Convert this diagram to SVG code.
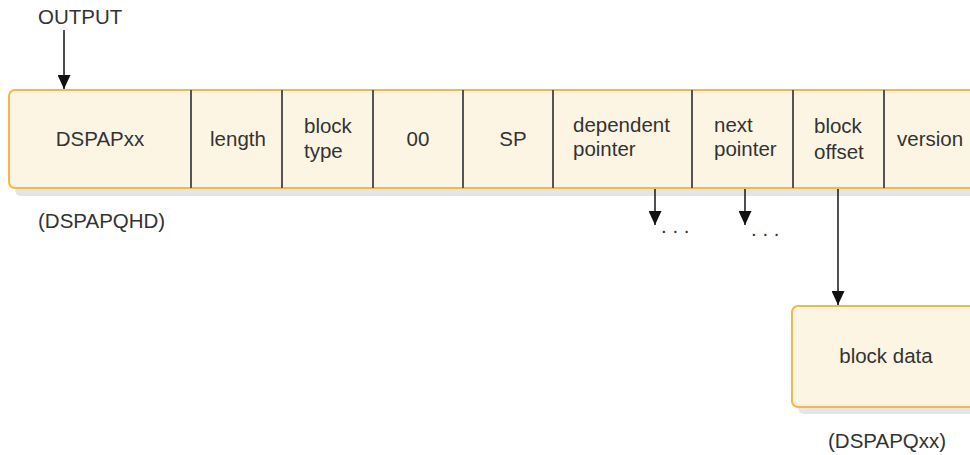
<svg xmlns="http://www.w3.org/2000/svg" width="970" height="455" viewBox="0 0 970 455">
<defs>
<style>
.t{font-family:"Liberation Sans",Arial,sans-serif;font-size:20.5px;fill:#333}
.c{text-anchor:middle}
.box{fill:#fdf5e4;stroke:#f7b64b;stroke-width:2}
.sh{fill:#e5e5e5}
.div{stroke:#555;stroke-width:2}
.ln{stroke:#222;stroke-width:1.6;fill:none}
</style>
<marker id="ah" viewBox="0 0 14 13" refX="14" refY="6.5" markerWidth="14" markerHeight="13" markerUnits="userSpaceOnUse" orient="auto">
<path d="M0,0 L14,6.5 L0,13 Z" fill="#111"/>
</marker>
</defs>
<text class="t" x="38" y="24">OUTPUT</text>
<g id="record">
<rect class="sh" x="15" y="96" width="1000" height="100" rx="6"/>
<rect class="box" x="9" y="90" width="1000" height="98" rx="6"/>
<line class="div" x1="191" y1="90" x2="191" y2="188"/>
<line class="div" x1="282" y1="90" x2="282" y2="188"/>
<line class="div" x1="373" y1="90" x2="373" y2="188"/>
<line class="div" x1="463" y1="90" x2="463" y2="188"/>
<line class="div" x1="553" y1="90" x2="553" y2="188"/>
<line class="div" x1="692" y1="90" x2="692" y2="188"/>
<line class="div" x1="793" y1="90" x2="793" y2="188"/>
<line class="div" x1="884" y1="90" x2="884" y2="188"/>
<text class="t c" x="100" y="146">DSPAPxx</text>
<text class="t c" x="238" y="146">length</text>
<text class="t" x="304" y="133">block</text>
<text class="t" x="304" y="158">type</text>
<text class="t c" x="418" y="146">00</text>
<text class="t c" x="513" y="146">SP</text>
<text class="t" x="573" y="132">dependent</text>
<text class="t" x="573" y="156">pointer</text>
<text class="t" x="714" y="132">next</text>
<text class="t" x="714" y="156">pointer</text>
<text class="t" x="814" y="133">block</text>
<text class="t" x="814" y="159">offset</text>
<text class="t" x="897" y="146">version</text>
</g>
<text class="t" x="38" y="228">(DSPAPQHD)</text>
<g id="blockdata">
<rect class="sh" x="798" y="312" width="200" height="102" rx="6"/>
<rect class="box" x="792" y="306" width="200" height="101" rx="6"/>
<text class="t c" x="886" y="363">block data</text>
</g>
<text class="t" x="828" y="448">(DSPAPQxx)</text>
<text class="t" x="661" y="233">. . .</text>
<text class="t" x="751" y="236">. . .</text>
<g id="connectors">
<line class="ln" x1="64" y1="30" x2="64" y2="89" marker-end="url(#ah)"/>
<line class="ln" x1="655" y1="189" x2="655" y2="225" marker-end="url(#ah)"/>
<line class="ln" x1="745" y1="189" x2="745" y2="225" marker-end="url(#ah)"/>
<line class="ln" x1="838" y1="189" x2="838" y2="305" marker-end="url(#ah)" stroke="#666"/>
</g>
</svg>
